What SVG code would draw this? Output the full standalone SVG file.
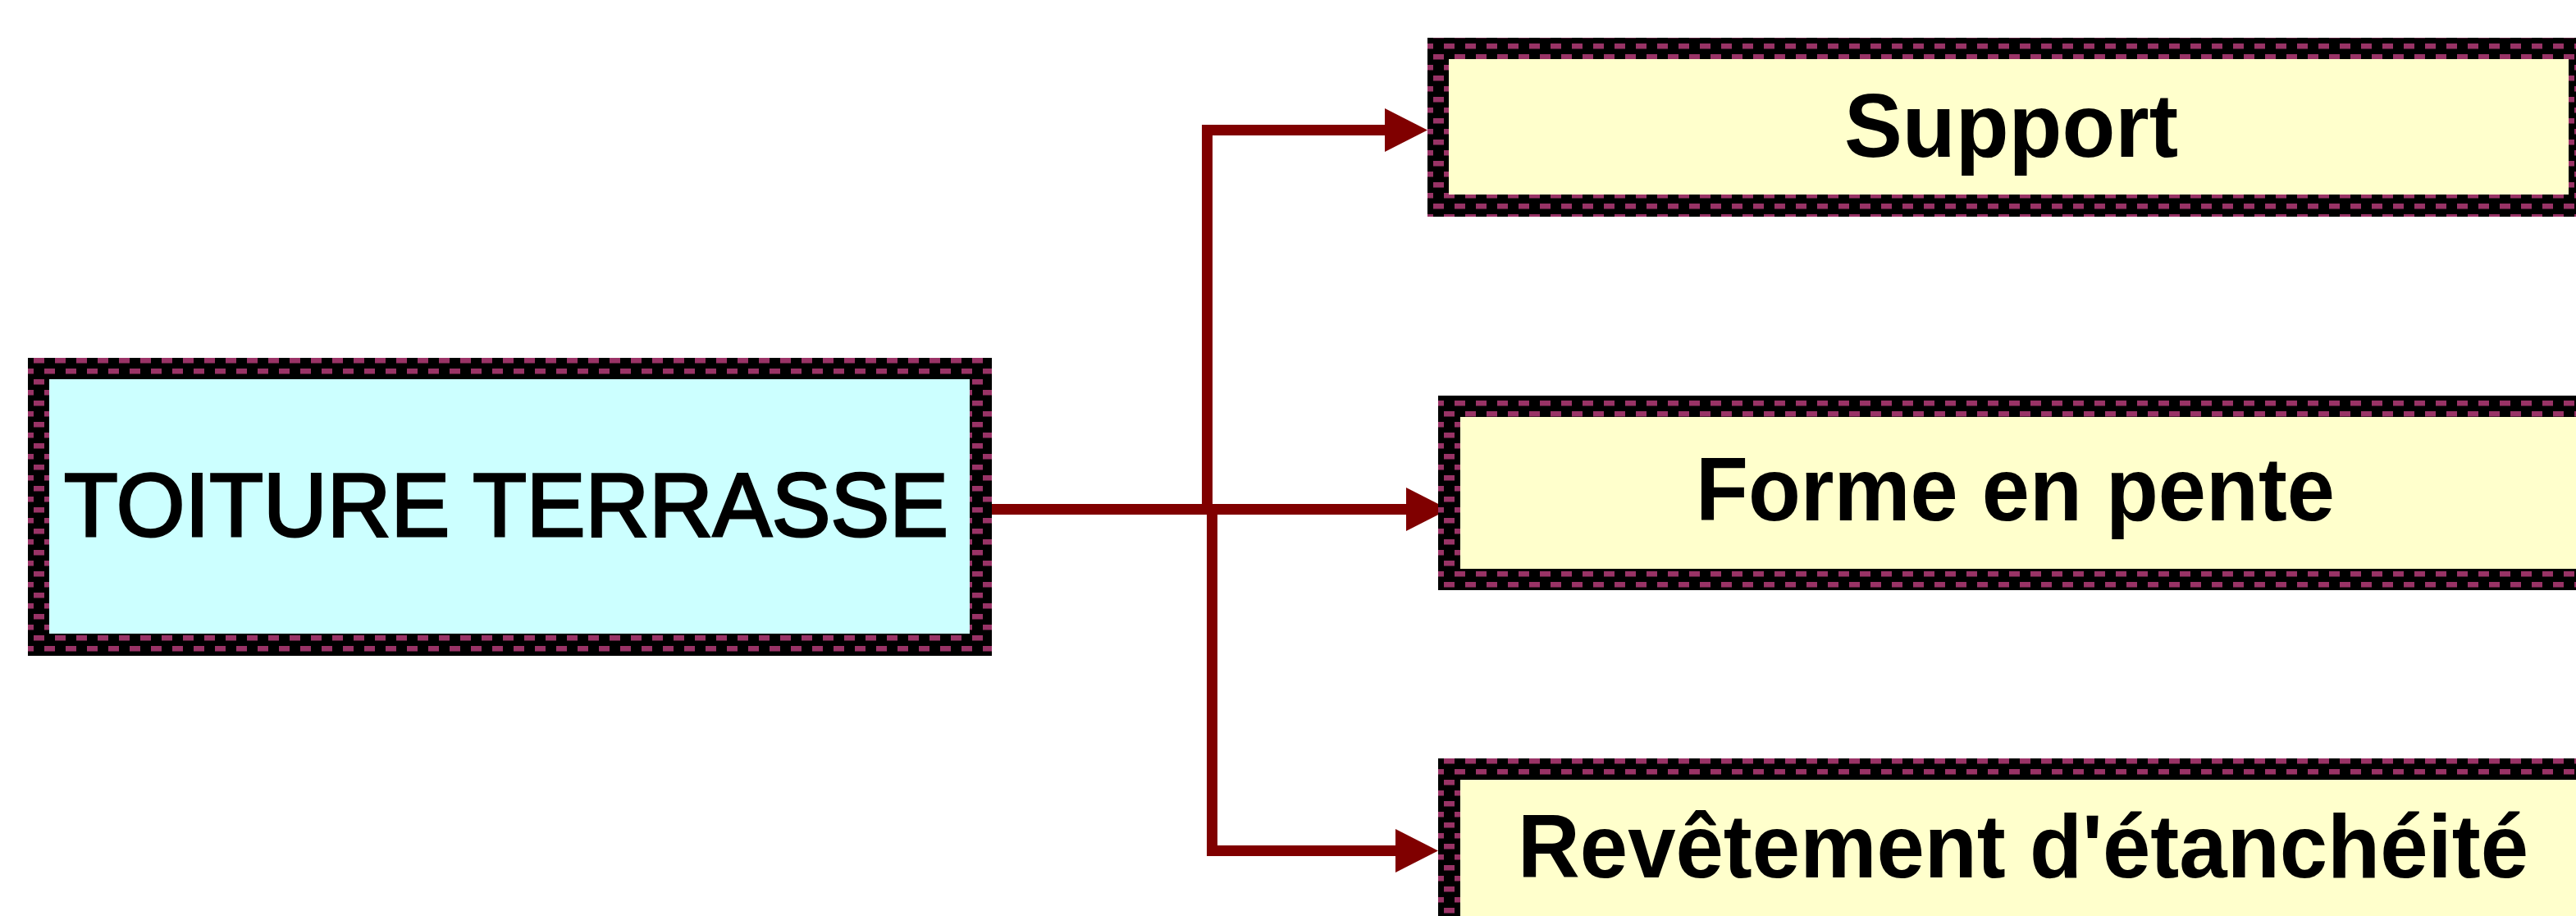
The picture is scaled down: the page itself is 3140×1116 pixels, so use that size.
<svg xmlns="http://www.w3.org/2000/svg" width="3140" height="1116" viewBox="0 0 3140 1116">
  <style>
    .lbl { font-family: "Liberation Sans", Arial, sans-serif; font-size: 110px; fill: #000000; }
    .reg { stroke: #000000; stroke-width: 3; }
    .bold { font-weight: bold; }
    .conn { fill: none; stroke: #800000; stroke-width: 13; stroke-linejoin: miter; stroke-linecap: butt; }
    .cyan { fill: #CCFFFF; }
    .yel { fill: #FFFFCC; }
  </style>
  <defs>
    <pattern id="bL" patternUnits="userSpaceOnUse" x="41" y="436" width="26" height="26">
      <rect width="26" height="26" fill="#000"/>
      <rect x="0" y="0" width="13" height="6.5" fill="#993366"/>
      <rect x="13" y="13" width="13" height="6.5" fill="#993366"/>
    </pattern>
    <pattern id="bS" patternUnits="userSpaceOnUse" x="1760" y="53" width="26" height="26">
      <rect width="26" height="26" fill="#000"/>
      <rect x="0" y="0" width="13" height="6.5" fill="#993366"/>
      <rect x="13" y="13" width="13" height="6.5" fill="#993366"/>
    </pattern>
    <pattern id="bF" patternUnits="userSpaceOnUse" x="1773" y="488" width="26" height="26">
      <rect width="26" height="26" fill="#000"/>
      <rect x="0" y="0" width="13" height="6.5" fill="#993366"/>
      <rect x="13" y="13" width="13" height="6.5" fill="#993366"/>
    </pattern>
    <pattern id="bR" patternUnits="userSpaceOnUse" x="1760" y="924" width="26" height="26">
      <rect width="26" height="26" fill="#000"/>
      <rect x="0" y="0" width="13" height="6.5" fill="#993366"/>
      <rect x="13" y="13" width="13" height="6.5" fill="#993366"/>
    </pattern>
    <marker id="arr" viewBox="0 0 52 53" refX="0" refY="26.5" markerWidth="52" markerHeight="53" markerUnits="userSpaceOnUse" orient="auto">
      <path d="M0,0 L52,26.5 L0,53 Z" fill="#800000"/>
    </marker>
  </defs>
  <rect width="3140" height="1116" fill="#FFFFFF"/>

  <g id="connectors">
    <path class="conn" d="M1209,620.5 H1714" marker-end="url(#arr)"/>
    <path class="conn" d="M1471.5,620.5 V158.5 H1688" marker-end="url(#arr)"/>
    <path class="conn" d="M1477.5,620.5 V1036.5 H1701" marker-end="url(#arr)"/>
  </g>

  <g id="toiture-terrasse">
    <rect x="34" y="436" width="1175" height="363" fill="url(#bL)"/>
    <rect class="cyan" x="60" y="462" width="1122" height="310"/>
    <text class="lbl reg" x="78" y="653" textLength="1078" lengthAdjust="spacingAndGlyphs">TOITURE TERRASSE</text>
  </g>

  <g id="support">
    <rect x="1740" y="46" width="1420" height="218" fill="url(#bS)"/>
    <rect class="yel" x="1766" y="72" width="1365" height="165"/>
    <text class="lbl bold" x="2248" y="191" textLength="407" lengthAdjust="spacingAndGlyphs">Support</text>
  </g>

  <g id="forme-en-pente">
    <rect x="1753" y="482" width="1420" height="237" fill="url(#bF)"/>
    <rect class="yel" x="1780" y="508" width="1400" height="185"/>
    <text class="lbl bold" x="2067" y="634" textLength="779" lengthAdjust="spacingAndGlyphs">Forme en pente</text>
  </g>

  <g id="revetement">
    <rect x="1753" y="924" width="1420" height="250" fill="url(#bR)"/>
    <rect class="yel" x="1780" y="950" width="1400" height="250"/>
    <text class="lbl bold" x="1850" y="1069" textLength="1232" lengthAdjust="spacingAndGlyphs">Revêtement d'étanchéité</text>
  </g>
</svg>
